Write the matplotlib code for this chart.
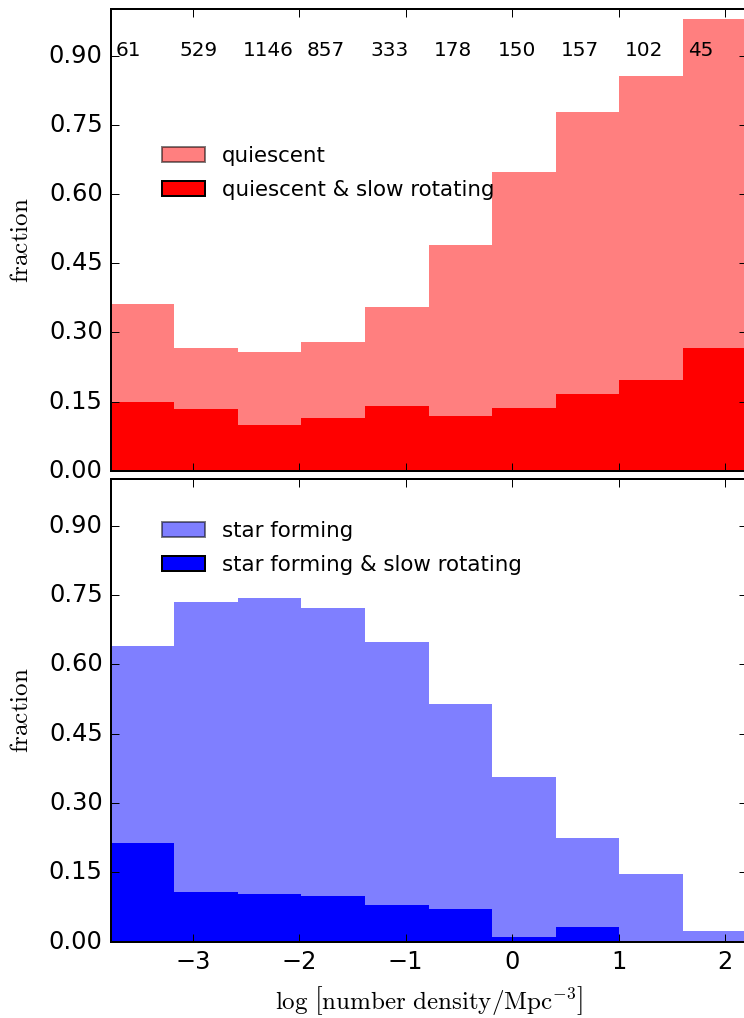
import numpy as np
import matplotlib
matplotlib.use('Agg')
import matplotlib.pyplot as plt
import matplotlib.patches as mpatches

# bin edges in log number density (10 bins)
edges = [-3.77, -3.173, -2.576, -1.979, -1.382, -0.785, -0.188, 0.409, 1.006, 1.603, 2.2]
counts = [61, 529, 1146, 857, 333, 178, 150, 157, 102, 45]

# fractions
quiescent = [0.361, 0.267, 0.258, 0.278, 0.355, 0.489, 0.647, 0.778, 0.856, 0.979]
quiescent_slow = [0.149, 0.134, 0.099, 0.114, 0.141, 0.119, 0.136, 0.166, 0.196, 0.267]
starforming = [0.640, 0.734, 0.744, 0.721, 0.647, 0.513, 0.356, 0.224, 0.146, 0.022]
starforming_slow = [0.214, 0.107, 0.103, 0.099, 0.079, 0.070, 0.010, 0.032, 0.0, 0.0]

yticks = [0.0, 0.15, 0.30, 0.45, 0.60, 0.75, 0.90]

plt.style.use('classic')
plt.rcParams['mathtext.fontset'] = 'cm'

dpi = 144
fig = plt.figure(figsize=(744 / dpi, 1018 / dpi), dpi=dpi, facecolor='white')
ax1 = fig.add_axes([0.1488, 0.5376, 0.8546, 0.4532])
ax2 = fig.add_axes([0.1488, 0.0750, 0.8546, 0.4542])


def draw_panel(ax, light, dark, color, labels, legend_y):
    ax.stairs(light, edges, fill=True, color=color, alpha=0.5, linewidth=0)
    ax.stairs(dark, edges, fill=True, color=color, linewidth=0)
    ax.set_xlim(edges[0], edges[-1])
    ax.set_ylim(0, 1.0)
    ax.set_yticks(yticks)
    ax.set_yticklabels(['%.2f' % t for t in yticks])
    ax.set_xticks([-3, -2, -1, 0, 1, 2])
    ax.tick_params(which='both', direction='in', top=True, right=True, labelsize=12)
    ax.set_ylabel(r'$\mathrm{fraction}$', fontsize=12.5, labelpad=8)
    light_patch = mpatches.Patch(facecolor=color, edgecolor='k', alpha=0.5, label=labels[0])
    dark_patch = mpatches.Patch(facecolor=color, edgecolor='k', label=labels[1])
    ax.legend(handles=[light_patch, dark_patch], loc='center left',
              bbox_to_anchor=(0.051, legend_y), frameon=False,
              prop={'size': 10.7}, handlelength=2, handletextpad=0.8,
              labelspacing=0.65, borderpad=0.4)


draw_panel(ax1, quiescent, quiescent_slow, 'red',
           ['quiescent', 'quiescent & slow rotating'], 0.6446)
draw_panel(ax2, starforming, starforming_slow, 'blue',
           ['star forming', 'star forming & slow rotating'], 0.8514)

ax1.set_xticklabels([])
# number of galaxies in each bin
for i in range(len(counts)):
    ax1.text(edges[i] + 0.05, 0.9, str(counts[i]), fontsize=10)

ax2.set_xlabel(r'$\mathrm{log}\ \left[\mathrm{number\ density/Mpc^{-3}}\right]$', fontsize=12.5)

fig.savefig('out.png', dpi=dpi, facecolor='white')
